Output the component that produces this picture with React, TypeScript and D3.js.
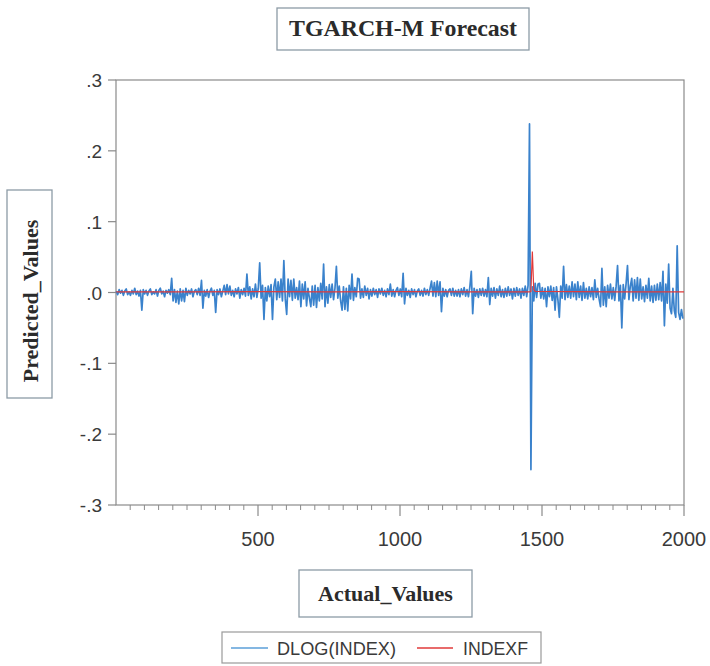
import React from "react";
import * as d3 from "d3";

// DLOG(INDEX): one value read every 5 observations (obs 1, 6, 11, ...)
const dlogIndex = [
  .002,-.003,.004,-.001,.003,-.004,.002,.005,-.003,.001,-.004,.003,-.002,.006,-.003,.002,-.005,.003,-.025,.004,
  -.002,.003,-.004,.002,.005,-.003,.001,-.002,.004,-.005,.003,.006,-.002,.002,-.006,.003,-.001,.004,-.003,.02,
  -.012,.004,-.014,.002,-.016,.005,-.012,.003,-.013,.006,-.004,.003,-.002,.005,-.006,.002,.004,-.003,.006,-.004,
  .017,-.022,.003,-.005,.004,-.007,.002,.006,-.004,.003,-.028,.004,-.003,.005,-.006,.002,.01,-.003,.011,-.002,
  .009,-.004,.003,-.006,.005,-.002,.007,-.008,.004,-.003,.006,-.005,.026,-.004,.008,-.009,.005,-.006,.012,-.007,
  .006,.042,-.008,.01,-.038,.007,-.012,.009,-.006,.011,-.038,.008,.019,-.01,.015,-.007,.019,-.012,.045,-.009,
  -.031,.019,-.006,.017,-.011,.019,-.008,.007,-.01,.016,-.02,.012,-.009,.015,-.019,.006,-.008,-.02,.009,-.018,
  .01,-.021,.007,-.012,.013,-.009,.04,-.02,.008,-.015,.011,-.007,.012,-.01,.006,.037,-.008,.009,-.012,-.025,
  .008,-.024,.006,-.026,.01,-.009,.026,-.011,.007,-.006,.02,.019,-.008,.005,-.007,.009,-.004,.006,-.009,.004,
  -.005,.006,-.003,.004,-.007,.005,-.002,.006,-.004,.003,-.006,.005,-.003,.012,-.005,.004,-.006,.003,.007,-.004,
  .005,-.006,.027,-.016,.006,-.004,.003,-.007,.005,-.003,.004,-.006,.002,.005,-.004,.003,-.005,.006,-.003,.004,
  -.004,.006,.016,-.005,.014,-.006,.016,-.004,.015,-.027,.006,-.005,.004,-.006,.003,.005,-.004,.006,-.005,.003,
  -.005,.004,-.006,.005,-.003,.007,-.005,.004,-.006,.008,.03,-.03,.006,-.005,.004,-.007,.005,-.004,.006,-.005,
  .004,-.006,.021,-.017,.006,-.005,.007,-.008,.005,-.004,.009,-.006,.004,-.007,.006,-.005,.008,-.004,.005,-.009,
  .006,-.005,.007,-.004,.005,-.008,.006,-.004,.009,-.006,.01,.238,-.25,.008,-.012,.013,-.007,.012,.013,-.008,
  .007,-.009,.006,-.02,.008,-.006,.009,-.011,.007,-.025,.008,-.01,-.035,.009,-.008,.037,-.01,.011,-.007,.009,
  -.008,.015,-.006,.012,-.01,.015,-.007,.009,-.011,.014,-.008,.006,-.009,.008,-.006,.007,-.01,.018,-.007,.006,
  -.009,-.02,.034,-.018,.008,-.02,.01,-.008,.012,-.009,.007,-.011,.009,.038,-.012,.01,-.05,.011,-.009,.012,
  .038,-.01,.009,.02,-.012,.018,-.008,.021,-.011,.019,-.009,.008,-.013,.01,-.008,.02,-.012,.009,-.014,.01,
  -.011,.012,-.01,.014,-.012,.03,-.047,.012,-.015,.04,-.022,-.03,.006,-.026,-.035,.066,-.028,-.038,-.024,-.037,
];
const dlogObsStep = 5;

const indexfObs = [1, 250, 500, 750, 1000, 1250, 1456, 1461, 1466, 1471, 1476, 1750, 2000];
const indexfValues = [.001, .0008, .0012, .0009, .0011, .001, .001, .0015, .058, .004, .0015, .001, .0008];

const yTicks = [.3, .2, .1, 0, -.1, -.2, -.3];
const yTickLabels = [".3", ".2", ".1", ".0", "-.1", "-.2", "-.3"];
const xMajorTicks = [500, 1000, 1500, 2000];
const xMinorStep = 50;

const legendNames = ["DLOG(INDEX)", "INDEXF"];

const W = 710, H = 666;
const L = 116, R = 684, T = 80, B = 505;
const BLUE = "#3a82cc";
const RED = "#e03a3a";

export default function App() {
  const x = d3.scaleLinear().domain([0, 2000]).range([L, R]);
  const y = d3.scaleLinear().domain([-.3, .3]).range([B, T]);
  const blueLine = d3.line<number>()
    .x((_, i) => x(1 + i * dlogObsStep))
    .y((d) => y(d));
  const redLine = d3.line<number>()
    .x((_, i) => x(indexfObs[i]))
    .y((d) => y(d));
  const minor = d3.range(xMinorStep, 2000, xMinorStep).filter((v) => v % 500 !== 0);
  const axisColor = "#8a8a8a";
  const labelColor = "#3a3a3a";
  const sans = "'Liberation Sans', Arial, sans-serif";
  const serif = "'Liberation Serif', 'Times New Roman', serif";

  return (
    <svg width={W} height={H} style={{ position: "absolute", left: 0, top: 0, background: "#fff" }}>
      {/* title */}
      <rect x={277} y={8} width={252} height={42} fill="none" stroke="#8d9ba6" strokeWidth={1.3} />
      <text x={403} y={36} textAnchor="middle" fontFamily={serif} fontWeight="bold" fontSize={23}
        fill="#2b2b2b" textLength={228} lengthAdjust="spacingAndGlyphs">TGARCH-M Forecast</text>

      {/* y label */}
      <rect x={7} y={190} width={45} height={208} fill="none" stroke="#8d9ba6" strokeWidth={1.3} />
      <text transform={`translate(38,301) rotate(-90)`} textAnchor="middle" fontFamily={serif}
        fontWeight="bold" fontSize={22} fill="#2b2b2b">Predicted_Values</text>

      {/* x label */}
      <rect x={299} y={570} width={173} height={47} fill="none" stroke="#8d9ba6" strokeWidth={1.3} />
      <text x={385.5} y={601} textAnchor="middle" fontFamily={serif} fontWeight="bold" fontSize={22}
        fill="#2b2b2b">Actual_Values</text>

      {/* frame */}
      <rect x={L} y={T} width={R - L} height={B - T} fill="none" stroke={axisColor} strokeWidth={1.2} />

      {/* y ticks */}
      {yTicks.map((t, i) => (
        <g key={"y" + i}>
          <line x1={L - 8} x2={L} y1={y(t)} y2={y(t)} stroke={axisColor} strokeWidth={1.2} />
          <text x={L - 14} y={y(t) + 7} textAnchor="end" fontFamily={sans} fontSize={19} fill={labelColor}>
            {yTickLabels[i]}
          </text>
        </g>
      ))}

      {/* x ticks */}
      {minor.map((t) => (
        <line key={"m" + t} x1={x(t)} x2={x(t)} y1={B} y2={B + 5} stroke={axisColor} strokeWidth={1} />
      ))}
      {xMajorTicks.map((t) => (
        <g key={"x" + t}>
          <line x1={x(t)} x2={x(t)} y1={B} y2={B + 11} stroke={axisColor} strokeWidth={1.2} />
          <text x={x(t)} y={B + 41} textAnchor="middle" fontFamily={sans} fontSize={20} fill={labelColor}>
            {t}
          </text>
        </g>
      ))}

      {/* series */}
      <path d={blueLine(dlogIndex) || ""} fill="none" stroke={BLUE} strokeWidth={1.7} strokeLinejoin="round" />
      <path d={redLine(indexfValues) || ""} fill="none" stroke={RED} strokeWidth={1.2} />

      {/* legend */}
      <rect x={222} y={632} width={319} height={31} fill="none" stroke="#9a9a9a" strokeWidth={1.2} />
      <line x1={231} x2={268} y1={648} y2={648} stroke="#5b9fd8" strokeWidth={1.3} />
      <text x={277} y={655} fontFamily={sans} fontSize={19} fill={labelColor}
        textLength={119} lengthAdjust="spacingAndGlyphs">{legendNames[0]}</text>
      <line x1={417} x2={453} y1={648} y2={648} stroke={RED} strokeWidth={1.3} />
      <text x={463} y={655} fontFamily={sans} fontSize={19} fill={labelColor}
        textLength={65} lengthAdjust="spacingAndGlyphs">{legendNames[1]}</text>
    </svg>
  );
}
